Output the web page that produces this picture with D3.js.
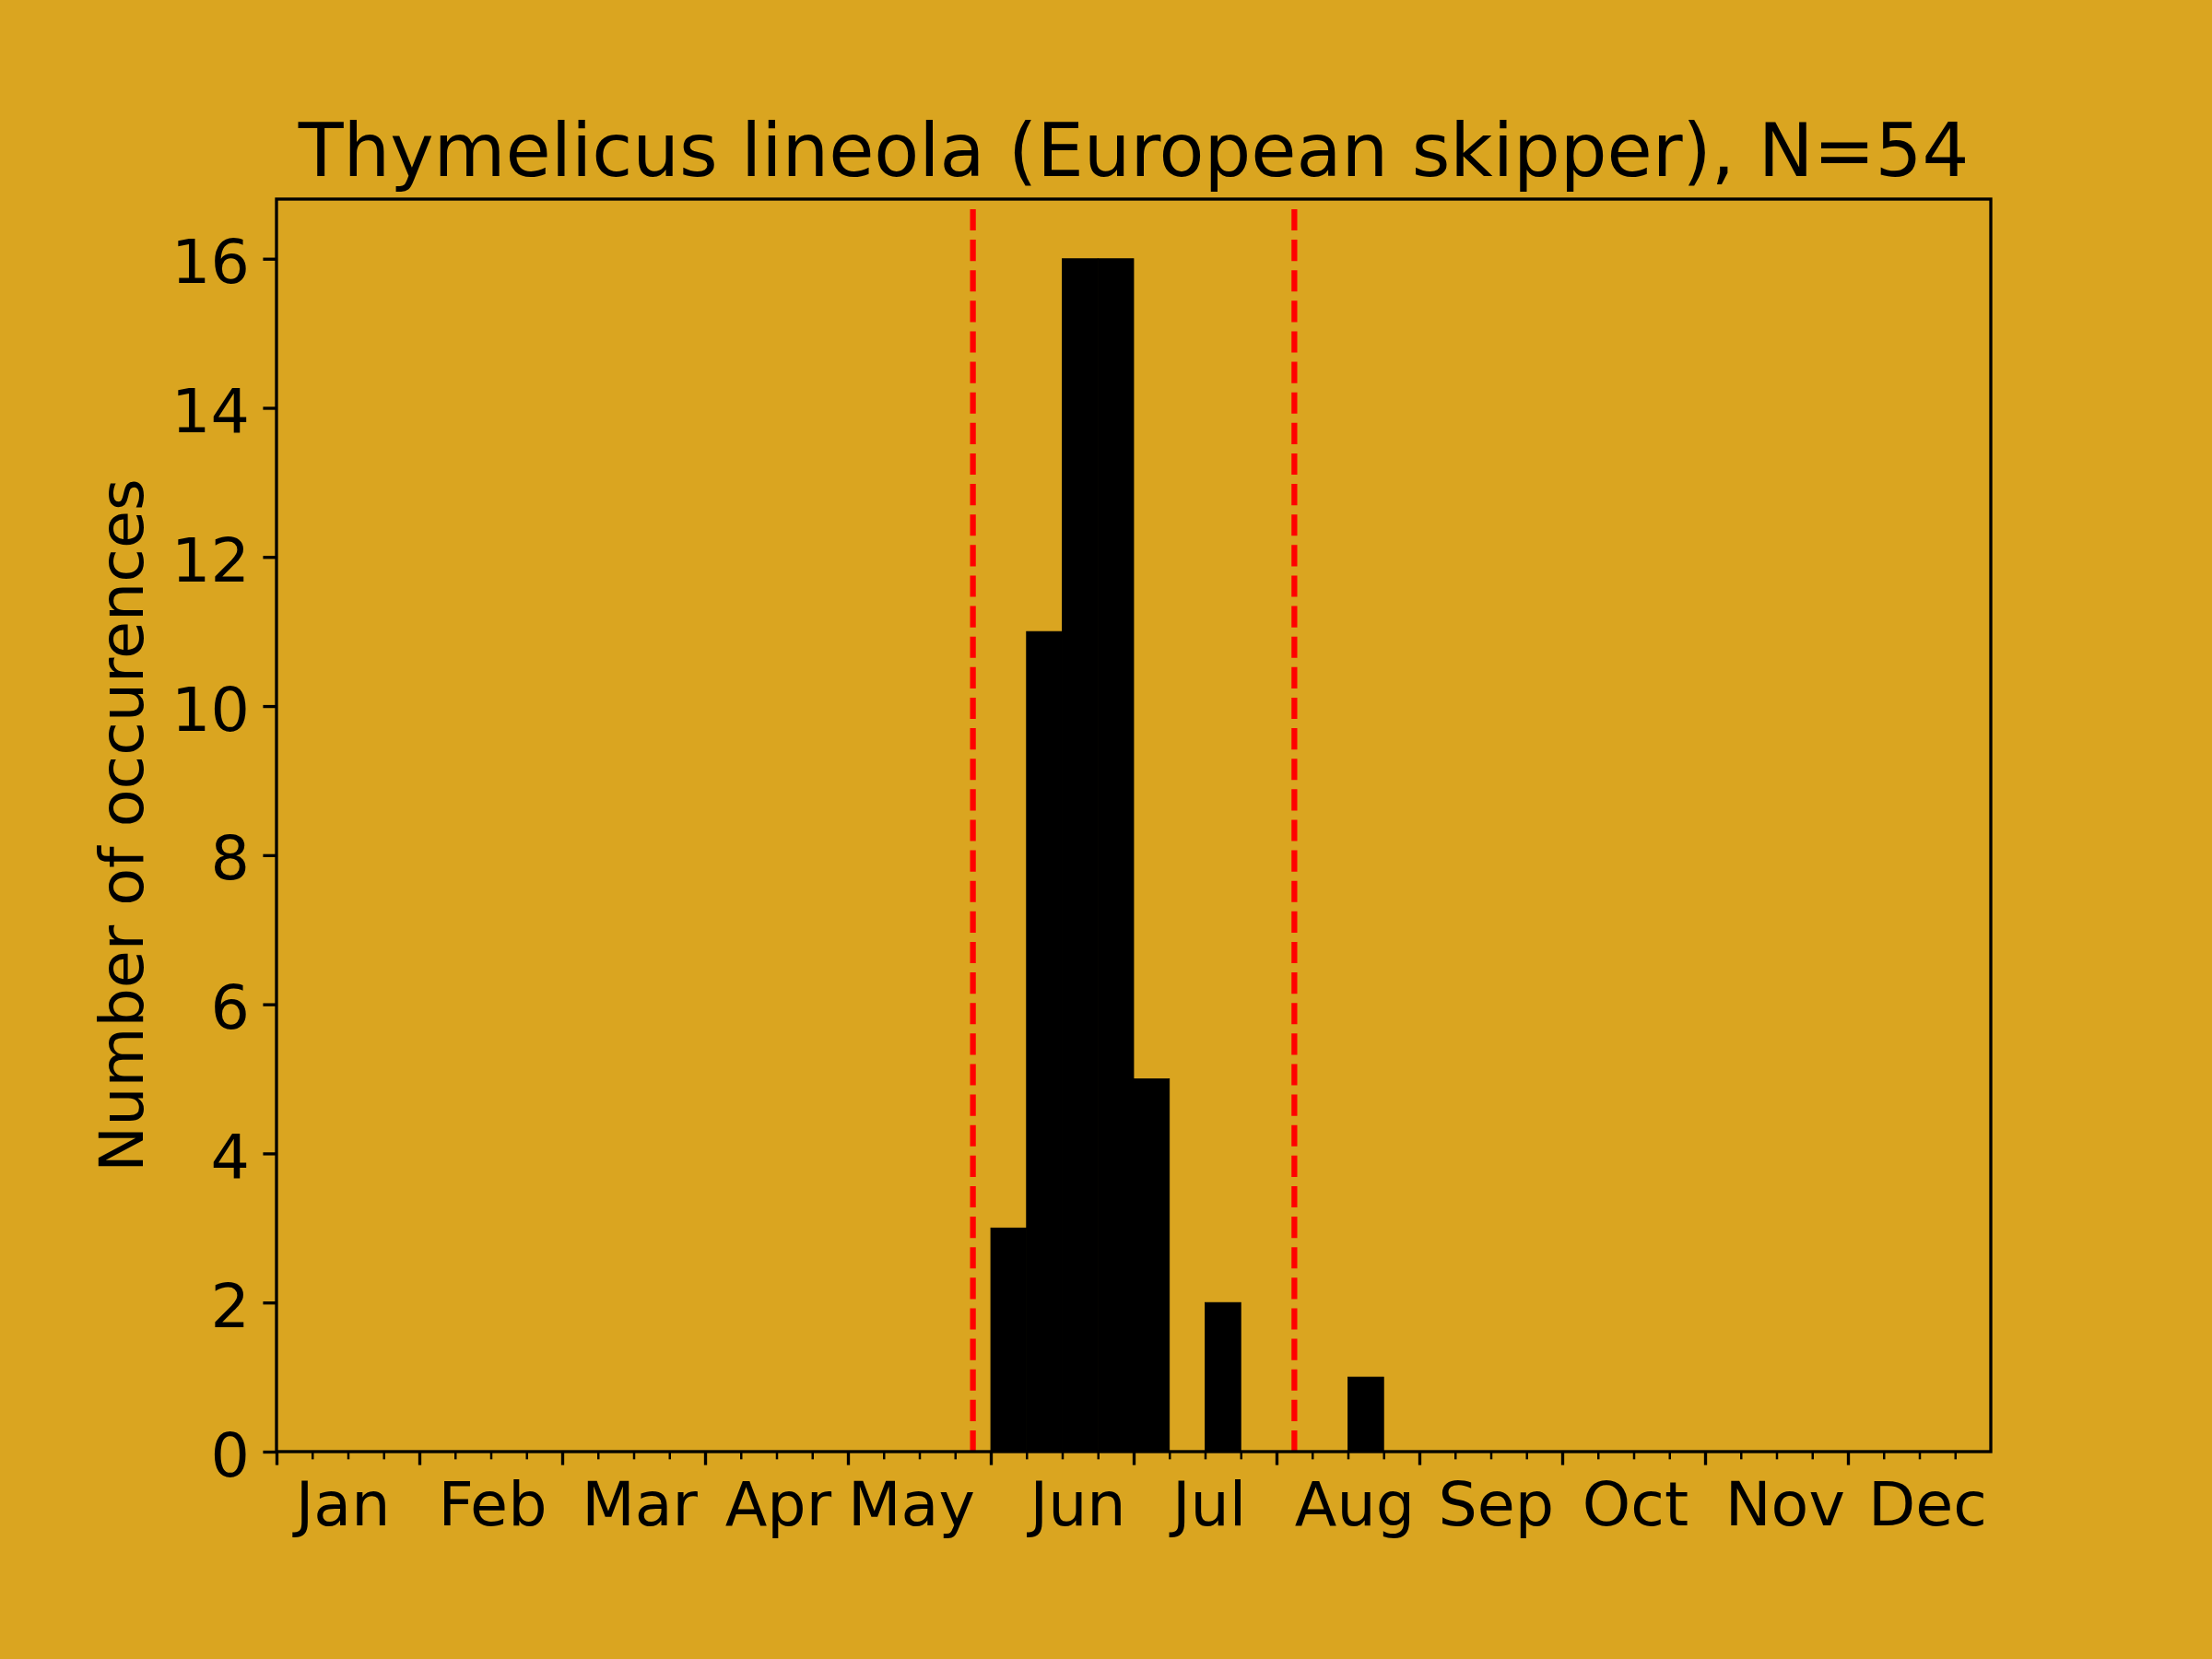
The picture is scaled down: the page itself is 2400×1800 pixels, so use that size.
<!DOCTYPE html>
<html>
<head>
<meta charset="utf-8">
<script src="https://cdn.jsdelivr.net/npm/d3@7"></script>
<style>
  html, body { margin: 0; padding: 0; background: #DAA520; }
  svg { display: block; }
  text { font-family: "DejaVu Sans", sans-serif; fill: #000; }
</style>
</head>
<body>
<svg id="chart" width="2400" height="1800"></svg>
<script>
// ---- data ----
const titleText = "Thymelicus lineola (European skipper), N=54";
const yLabelText = "Number of occurences";
const monthLabels = ["Jan","Feb","Mar","Apr","May","Jun","Jul","Aug","Sep","Oct","Nov","Dec"];
// label positions in week units
const monthLabelPos = [1.86, 6.05, 10.17, 14.05, 17.78, 22.44, 26.12, 30.19, 34.15, 38.05, 42.24, 46.23];
// weekly bins (4 per month, 48 total)
const weekIndex = d3.range(48);
const weekCounts = [
  0,0,0,0, 0,0,0,0, 0,0,0,0, 0,0,0,0, 0,0,0,0,
  3,11,16,16, 5,0,2,0, 0,0,1,0, 0,0,0,0,
  0,0,0,0, 0,0,0,0, 0,0,0,0
];
const markerLines = [19.5, 28.5];
const yTicks = [0,2,4,6,8,10,12,14,16];
const xMinorTicks = d3.range(0, 48);      // weeks 0..47
const xMajorTicks = d3.range(0, 48, 4);   // month starts 0..44

// ---- layout ----
const W = 2400, H = 1800;
const mLeft = 300, mRight = 2160, mTop = 216, mBottom = 1575;
const pt = 300/72;

const svg = d3.select("#chart");
svg.append("rect").attr("width", W).attr("height", H).attr("fill", "#DAA520");

const x = d3.scaleLinear().domain([0, 48]).range([mLeft, mRight]);
const y = d3.scaleLinear().domain([0, 16.8]).range([mBottom, mTop]);

// bars
svg.append("g").selectAll("rect")
  .data(weekIndex.filter(i => weekCounts[i] > 0))
  .join("rect")
  .attr("x", i => x(i))
  .attr("width", i => x(i + 1) - x(i))
  .attr("y", i => y(weekCounts[i]))
  .attr("height", i => y(0) - y(weekCounts[i]))
  .attr("fill", "#000")
  .attr("stroke", "#000")
  .attr("stroke-width", 0.8);

// dashed red lines (drawn bottom to top)
svg.append("g").selectAll("line")
  .data(markerLines)
  .join("line")
  .attr("x1", d => x(d)).attr("x2", d => x(d))
  .attr("y1", mBottom).attr("y2", mTop)
  .attr("stroke", "#ff0000")
  .attr("stroke-width", 1.5 * pt)
  .attr("stroke-dasharray", `${3.7*1.5*pt},${1.6*1.5*pt}`);

// minor x ticks
const xMinor = d3.axisBottom(x).tickValues(xMinorTicks).tickSize(2 * pt).tickFormat("");
const gMinor = svg.append("g").attr("transform", `translate(0,${mBottom})`).call(xMinor);
gMinor.select(".domain").remove();
gMinor.selectAll(".tick line").attr("stroke", "#000").attr("stroke-width", 0.6 * pt);

// major x ticks
const xMajor = d3.axisBottom(x).tickValues(xMajorTicks).tickSize(3.5 * pt).tickFormat("");
const gMajor = svg.append("g").attr("transform", `translate(0,${mBottom})`).call(xMajor);
gMajor.select(".domain").remove();
gMajor.selectAll(".tick line").attr("stroke", "#000").attr("stroke-width", 0.8 * pt);

// month labels
svg.append("g").selectAll("text")
  .data(monthLabels)
  .join("text")
  .attr("x", (d, i) => x(monthLabelPos[i]))
  .attr("y", 1655)
  .attr("text-anchor", "middle")
  .attr("font-size", 16 * pt)
  .text(d => d);

// y axis
const yAxis = d3.axisLeft(y).tickValues(yTicks).tickSize(3.5 * pt).tickPadding(3.5 * pt).tickFormat(d3.format("d"));
const gY = svg.append("g").attr("transform", `translate(${mLeft},0)`).call(yAxis);
gY.select(".domain").remove();
gY.selectAll(".tick line").attr("stroke", "#000").attr("stroke-width", 0.8 * pt);
gY.selectAll(".tick text")
  .attr("font-size", 16 * pt)
  .attr("font-family", "DejaVu Sans")
  .attr("fill", "#000")
  .attr("dy", null)
  .attr("y", 26);

// spines
svg.append("rect")
  .attr("x", mLeft).attr("y", mTop)
  .attr("width", mRight - mLeft).attr("height", mBottom - mTop)
  .attr("fill", "none").attr("stroke", "#000").attr("stroke-width", 0.8 * pt);

// title
svg.append("text")
  .attr("x", (mLeft + mRight) / 2).attr("y", 191)
  .attr("text-anchor", "middle")
  .attr("font-size", 80)
  .text(titleText);

// y label
svg.append("text")
  .attr("transform", `translate(155,${(mTop + mBottom) / 2}) rotate(-90)`)
  .attr("text-anchor", "middle")
  .attr("font-size", 16 * pt)
  .text(yLabelText);
</script>
</body>
</html>
